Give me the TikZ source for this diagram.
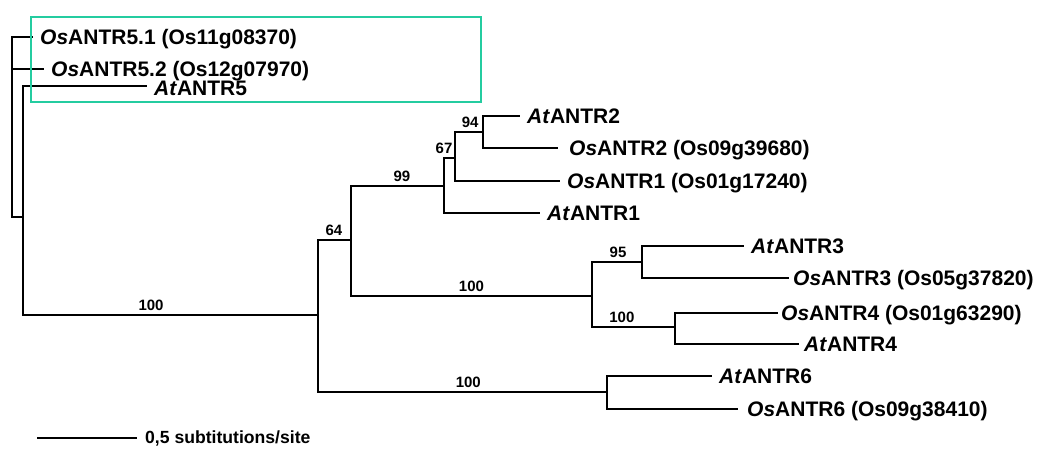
\documentclass[tikz,border=0pt]{standalone}
\usepackage{fontspec}
\setmainfont{Liberation Sans}
\definecolor{cladebox}{RGB}{36,204,160}
\newcommand{\osgene}[1]{\textit{Os}ANTR#1}
\newcommand{\atgene}[1]{\textit{At}ANTR#1}
\tikzset{
	br/.style={line width=2pt},
	taxon/.style={anchor=west, inner xsep=7pt, inner ysep=0pt, text height=15pt, text depth=0pt,
		font=\fontsize{21}{21}\selectfont\bfseries},
	boot/.style={above, inner xsep=1pt, inner ysep=3.5pt, font=\fontsize{15}{15}\selectfont\bfseries},
}
\begin{document}
\begin{tikzpicture}[x=1pt,y=-1pt]
	\useasboundingbox (0,0) rectangle (1043,453);
	% internal nodes
	\coordinate (r) at (12,127);
	\coordinate (n1) at (23,217);
	\coordinate (n2) at (318,315);
	\coordinate (n3) at (351,240);
	\coordinate (n4) at (444,186);
	\coordinate (n5) at (455,158);
	\coordinate (n6) at (483,132);
	\coordinate (n7) at (592,296);
	\coordinate (n8) at (642,262);
	\coordinate (n9) at (675,327);
	\coordinate (n10) at (607,392);
	% taxa
	\node[taxon] (os51) at (33,37) {\osgene{5.1} (Os11g08370)};
	\node[taxon] (os52) at (44,69) {\osgene{5.2} (Os12g07970)};
	\node[taxon, text height=19pt] (at5) at (147,86) {\atgene{5}};
	\node[taxon] (at2) at (520,116) {\atgene{2}};
	\node[taxon, inner xsep=11pt] (os2) at (558,148) {\osgene{2} (Os09g39680)};
	\node[taxon] (os1) at (560,181) {\osgene{1} (Os01g17240)};
	\node[taxon] (at1) at (540,213) {\atgene{1}};
	\node[taxon] (at3) at (744,246) {\atgene{3}};
	\node[taxon, inner xsep=4pt] (os3) at (789,278) {\osgene{3} (Os05g37820)};
	\node[taxon, inner xsep=3pt] (os4) at (778,313) {\osgene{4} (Os01g63290)};
	\node[taxon, inner xsep=5pt] (at4) at (799,344) {\atgene{4}};
	\node[taxon] (at6) at (712,376) {\atgene{6}};
	\node[taxon, inner xsep=9pt] (os6) at (738,409) {\osgene{6} (Os09g38410)};
	% branches
	\foreach \a/\b/\l/\p in {r/os51//1, r/os52//1, r/n1//1, n1/at5//1, n1/n2/100/0.717,
		n2/n3/64/0.74, n2/n10/100/0.76, n3/n4/99/0.774, n3/n7/100/0.75,
		n4/n5/67/0.5, n4/at1//1, n5/n6/94/0.77, n5/os1//1, n6/at2//1, n6/os2//1,
		n7/n8/95/0.76, n7/n9/100/0.68, n8/at3//1, n8/os3//1, n9/os4//1, n9/at4//1,
		n10/at6//1, n10/os6//1} {
		\draw[br] (\a) |- (\b) node[boot, pos=\p] {\l};
	}
	% clade box
	\draw[cladebox, line width=2pt] (31,17) rectangle (481,102);
	% scale bar
	\coordinate (sb1) at (37,438);
	\node[anchor=west, inner xsep=8pt, font=\fontsize{17.6}{17.6}\selectfont\bfseries] (sb2) at (137,438) {0,5 subtitutions/site};
	\draw[br] (sb1) -- (sb2);
\end{tikzpicture}
\end{document}
